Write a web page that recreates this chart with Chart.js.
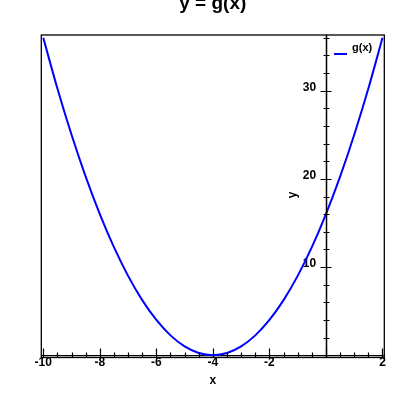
<!DOCTYPE html>
<html><head><meta charset="utf-8">
<script src="https://cdn.jsdelivr.net/npm/chart.js@4/dist/chart.umd.min.js"></script>
<style>html,body{margin:0;padding:0;background:#fff}canvas{display:block}</style>
</head><body>
<canvas id="c" width="400" height="400"></canvas>
<script>
const titleText = 'y = g(x)';
const seriesName = 'g(x)';
const xTitle = 'x';
const yTitle = 'y';
const xValues = [-10, -9.5, -9, -8.5, -8, -7.5, -7, -6.5, -6, -5.5, -5, -4.5, -4, -3.5, -3, -2.5, -2, -1.5, -1, -0.5, 0, 0.5, 1, 1.5, 2];
const gValues = [36, 30.25, 25, 20.25, 16, 12.25, 9, 6.25, 4, 2.25, 1, 0.25, 0, 0.25, 1, 2.25, 4, 6.25, 9, 12.25, 16, 20.25, 25, 30.25, 36];
const xTickValues = [-10, -8, -6, -4, -2, 0, 2];
const yTickValues = [0, 10, 20, 30];

const FONT = 'Liberation Sans';

const decor = {
  id: 'decor',
  afterDraw(chart) {
    const {ctx, chartArea: a, scales: {x, y}} = chart;
    ctx.save();
    ctx.strokeStyle = '#000';
    ctx.lineWidth = 1.3;
    ctx.strokeRect(a.left, a.top, a.right - a.left, a.bottom - a.top);
    // y axis line at x = 0
    const x0 = Math.round(x.getPixelForValue(0)) + 0.5;
    ctx.lineWidth = 1.5;
    ctx.beginPath();
    ctx.moveTo(x0, a.top); ctx.lineTo(x0, a.bottom);
    ctx.stroke();
    // x ticks (major every 2, minor every 0.5)
    ctx.lineWidth = 1.2;
    ctx.beginPath();
    for (let i = 0; i <= 24; i++) {
      const v = -10 + i * 0.5;
      const px = Math.round(x.getPixelForValue(v)) + 0.5;
      const len = (v % 2 === 0) ? 9 : 5;
      ctx.moveTo(px, a.bottom);
      ctx.lineTo(px, a.bottom - len);
    }
    // y ticks (major every 10, minor every 2)
    for (let i = 1; i <= 18; i++) {
      const v = i * 2;
      const py = Math.round(y.getPixelForValue(v)) + 0.5;
      if (v % 10 === 0) { ctx.moveTo(x0 - 6, py); ctx.lineTo(x0 + 5, py); }
      else { ctx.moveTo(x0 - 3, py); ctx.lineTo(x0 + 3, py); }
    }
    ctx.stroke();
    // title
    ctx.fillStyle = '#000';
    ctx.textAlign = 'center';
    ctx.textBaseline = 'alphabetic';
    ctx.font = 'bold 19px "' + FONT + '"';
    ctx.fillText(titleText, (a.left + a.right) / 2, 9);
    // axis titles
    ctx.font = 'bold 12px "' + FONT + '"';
    ctx.textBaseline = 'middle';
    ctx.fillText(xTitle, (a.left + a.right) / 2, 381);
    ctx.save();
    ctx.translate(293, 195);
    ctx.rotate(-Math.PI / 2);
    ctx.fillText(yTitle, 0, 0);
    ctx.restore();
    // legend
    ctx.strokeStyle = '#0000ff';
    ctx.lineWidth = 2;
    ctx.beginPath();
    ctx.moveTo(334, 54); ctx.lineTo(347, 54);
    ctx.stroke();
    ctx.fillStyle = '#000';
    ctx.textAlign = 'left';
    ctx.font = 'bold 11px "' + FONT + '"';
    ctx.fillText(seriesName, 352, 48);
    ctx.restore();
  }
};

new Chart(document.getElementById('c'), {
  type: 'line',
  data: {
    datasets: [{
      label: seriesName,
      data: xValues.map((v, i) => ({x: v, y: gValues[i]})),
      borderColor: '#0000ff',
      borderWidth: 2,
      pointRadius: 0,
      cubicInterpolationMode: 'monotone',
      fill: false
    }]
  },
  options: {
    responsive: false,
    animation: false,
    devicePixelRatio: 1,
    layout: {padding: {left: 41.3, top: 35, right: 15.7, bottom: 42.5}},
    plugins: {legend: {display: false}, title: {display: false}, tooltip: {enabled: false}},
    scales: {
      x: {
        type: 'linear',
        position: {y: 0},
        min: -10.07, max: 2.064,
        afterBuildTicks: s => { s.ticks = xTickValues.map(v => ({value: v})); },
        afterFit: s => { s.height = 0; },
        grid: {display: false, drawTicks: false},
        border: {display: true, color: '#000', width: 1.3},
        ticks: {
          color: '#000', padding: 0, maxRotation: 0, autoSkip: false,
          font: {family: FONT, size: 12, weight: 'bold'},
          callback: v => v === 0 ? '' : String(v)
        }
      },
      y: {
        type: 'linear',
        position: {x: -0.35},
        min: -0.26, max: 36.32,
        afterBuildTicks: s => { s.ticks = yTickValues.map(v => ({value: v})); },
        afterFit: s => { s.width = 0; },
        grid: {display: false, drawTicks: false},
        border: {display: false},
        ticks: {
          color: '#000', padding: 0, labelOffset: -3.5, autoSkip: false,
          font: {family: FONT, size: 12, weight: 'bold'},
          callback: v => v === 0 ? '' : String(v)
        }
      }
    }
  },
  plugins: [decor]
});
</script>
</body></html>
